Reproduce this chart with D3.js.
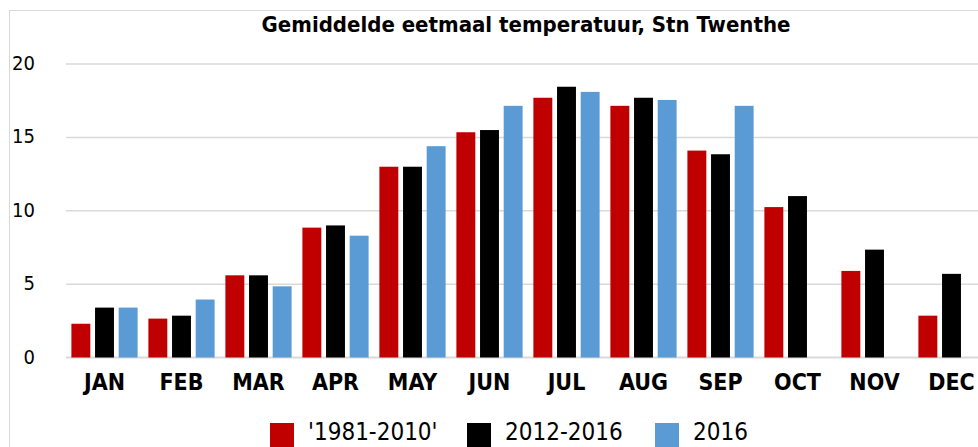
<!DOCTYPE html>
<html>
<head>
<meta charset="utf-8">
<script src="https://cdn.jsdelivr.net/npm/d3@7"></script>
<style>
  body { margin: 0; background: #fff; }
  svg { display: block; font-family: "DejaVu Sans Condensed", "DejaVu Sans", sans-serif; }
</style>
</head>
<body>
<div id="chart"></div>
<script>
const width = 978, height = 447;

// data
const months = ["JAN", "FEB", "MAR", "APR", "MAY", "JUN", "JUL", "AUG", "SEP", "OCT", "NOV", "DEC"];
const seriesNames = ["'1981-2010'", "2012-2016", "2016"];
const normal8110 = [2.3, 2.65, 5.6, 8.85, 13.0, 15.35, 17.7, 17.15, 14.1, 10.25, 5.9, 2.85];
const avg1216 = [3.4, 2.85, 5.6, 9.0, 13.0, 15.5, 18.45, 17.7, 13.85, 11.0, 7.35, 5.7];
const year2016 = [3.4, 3.95, 4.85, 8.3, 14.4, 17.15, 18.1, 17.55, 17.15, null, null, null];
const yTicks = [0, 5, 10, 15, 20];
const colors = ["#c00000", "#000000", "#5b9bd5"];

const seriesValues = [normal8110, avg1216, year2016];

const margin = {left: 66, right: -12, top: 64, bottom: 89};

const svg = d3.select("#chart").append("svg")
    .attr("width", width)
    .attr("height", height);

// chart border (cropped on right and bottom)
svg.append("rect")
    .attr("x", 9.5).attr("y", 10.5)
    .attr("width", 1000).attr("height", 1000)
    .attr("fill", "none")
    .attr("stroke", "#d9d9d9");

const x0 = d3.scaleBand()
    .domain(months)
    .range([margin.left, width - margin.right])
    .paddingInner(0.14)
    .paddingOuter(0.07);

const x1 = d3.scaleBand()
    .domain(d3.range(seriesNames.length))
    .range([0, x0.bandwidth()])
    .paddingInner(0.2);

const y = d3.scaleLinear()
    .domain([0, 20])
    .range([height - margin.bottom - 0.5, margin.top]);

// gridlines
svg.append("g")
    .selectAll("line")
    .data(yTicks)
    .join("line")
    .attr("x1", margin.left)
    .attr("x2", width)
    .attr("y1", d => y(d))
    .attr("y2", d => y(d))
    .attr("stroke", "#d9d9d9")
    .attr("stroke-width", d => d === 0 ? 2 : 1.5);

// y tick labels
svg.append("g")
    .selectAll("text")
    .data(yTicks)
    .join("text")
    .attr("x", 35)
    .attr("y", d => y(d) - 1)
    .attr("dy", "0.35em")
    .attr("text-anchor", "end")
    .attr("font-size", 20)
    .attr("fill", "#000")
    .text(d => d);

// bars
const groups = svg.append("g")
    .selectAll("g")
    .data(months)
    .join("g")
    .attr("transform", d => `translate(${x0(d)},0)`);

groups.selectAll("rect")
    .data((m, i) => seriesValues.map((s, k) => ({k, v: s[i]})).filter(d => d.v !== null))
    .join("rect")
    .attr("x", d => x1(d.k))
    .attr("width", x1.bandwidth())
    .attr("y", d => y(d.v))
    .attr("height", d => y(0) - y(d.v))
    .attr("fill", d => colors[d.k]);

// month labels
svg.append("g")
    .selectAll("text")
    .data(months)
    .join("text")
    .attr("x", d => x0(d) + x0.bandwidth() / 2)
    .attr("y", 382)
    .attr("dy", "0.35em")
    .attr("text-anchor", "middle")
    .attr("font-size", 23)
    .attr("font-weight", "bold")
    .text(d => d);

// title
svg.append("text")
    .attr("x", 526)
    .attr("y", 24)
    .attr("dy", "0.35em")
    .attr("text-anchor", "middle")
    .attr("font-size", 22)
    .attr("font-weight", "bold")
    .text("Gemiddelde eetmaal temperatuur, Stn Twenthe");

// legend
const legendX = [270, 467, 655];
const legend = svg.append("g")
    .selectAll("g")
    .data(seriesNames)
    .join("g")
    .attr("transform", (d, i) => `translate(${legendX[i]},0)`);

legend.append("rect")
    .attr("x", 0).attr("y", 423)
    .attr("width", 24).attr("height", 24)
    .attr("fill", (d, i) => colors[i]);

legend.append("text")
    .attr("x", 38)
    .attr("y", 432)
    .attr("dy", "0.35em")
    .attr("font-size", 24)
    .text(d => d);
</script>
</body>
</html>
